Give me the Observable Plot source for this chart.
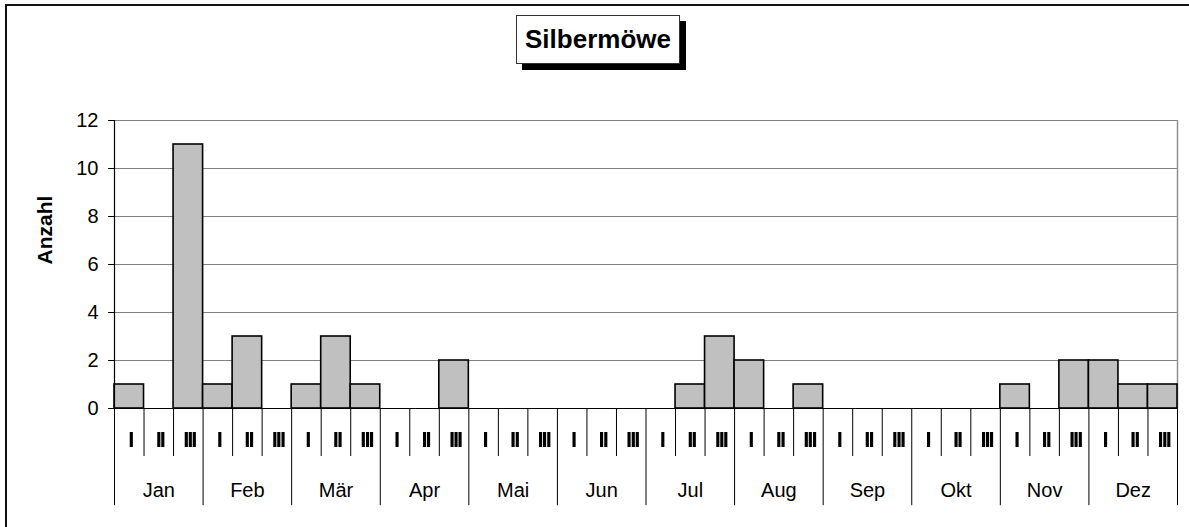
<!DOCTYPE html>
<html>
<head>
<meta charset="utf-8">
<script src="https://cdn.jsdelivr.net/npm/d3@7"></script>
<script src="https://cdn.jsdelivr.net/npm/@observablehq/plot@0.6"></script>
<style>
  html, body { margin: 0; padding: 0; background: #fff; }
  #wrap { position: relative; width: 1189px; height: 527px; overflow: hidden; font-family: "Liberation Sans", Arial, sans-serif; }
  #frame { position: absolute; left: 5px; top: 4px; width: 1300px; height: 700px; border-left: 2px solid #111; border-top: 2px solid #111; box-sizing: border-box; }
  #title { position: absolute; left: 516px; top: 15px; width: 164px; height: 49px; box-sizing: border-box; background: #fff; border: 1px solid #333; box-shadow: 6px 6px 0 #000; display: flex; align-items: center; justify-content: center; font-weight: bold; font-size: 26px; color: #000; }
  #chart { position: absolute; left: 0; top: 0; }
  g.dec { letter-spacing: -2px; filter: grayscale(1); }
</style>
</head>
<body>
<div id="wrap">
  <div id="frame"></div>
  <div id="chart"></div>
  <div id="title">Silbermöwe</div>
</div>
<script>
const months = ["Jan","Feb","Mär","Apr","Mai","Jun","Jul","Aug","Sep","Okt","Nov","Dez"];
const decades = ["I","II","III"];
const counts = [
  1, 0, 11,   // Jan
  1, 3, 0,    // Feb
  1, 3, 1,    // Mär
  0, 0, 2,    // Apr
  0, 0, 0,    // Mai
  0, 0, 0,    // Jun
  0, 1, 3,    // Jul
  2, 0, 1,    // Aug
  0, 0, 0,    // Sep
  0, 0, 0,    // Okt
  1, 0, 2,    // Nov
  2, 1, 1     // Dez
];
const yTicks = [0, 2, 4, 6, 8, 10, 12];
const yLabel = "Anzahl";

const bars = counts.map((v, i) => ({i, v})).filter(d => d.v > 0);
const decadeCells = d3.range(months.length * decades.length).map(i => ({i, label: decades[i % 3]}));
const monthCells = months.map((m, k) => ({k, m}));

const chart = Plot.plot({
  width: 1189,
  height: 527,
  marginLeft: 114,
  marginRight: 12,
  marginTop: 120,
  marginBottom: 119,
  style: {fontFamily: "'Liberation Sans', Arial, sans-serif", background: "transparent", overflow: "visible"},
  x: {type: "linear", domain: [0, counts.length], axis: null},
  y: {type: "linear", domain: [0, 12], axis: null},
  marks: [
    Plot.ruleY(yTicks.filter(t => t > 0), {stroke: "#808080", strokeWidth: 1.2}),
    Plot.ruleX([counts.length], {y1: 0, y2: 12, stroke: "#909090", strokeWidth: 1.5}),
    Plot.rectY(bars, {x1: "i", x2: d => d.i + 1, y1: 0, y2: "v", fill: "#c0c0c0", stroke: "#000", strokeWidth: 1.6}),
    Plot.ruleY([0], {stroke: "#000", strokeWidth: 1.2}),
    Plot.ruleX(d3.range(1, counts.length).filter(i => i % 3 !== 0), {y1: 0, y2: -2, stroke: "#000", strokeWidth: 1}),
    Plot.ruleX(d3.range(0, counts.length + 1, 3), {y1: 0, y2: -4.05, stroke: "#000", strokeWidth: 1}),
    Plot.ruleX([0], {y1: 0, y2: 12, stroke: "#000", strokeWidth: 1.2}),
    Plot.ruleY(yTicks, {x1: -0.2, x2: 0, stroke: "#000", strokeWidth: 1}),
    Plot.text(yTicks, {x: 0, y: d => d, text: d => String(d), textAnchor: "end", dx: -16, fontSize: 20, fill: "#000"}),
    Plot.text(decadeCells, {x: d => d.i + 0.5, y: -1.33, dx: 1, text: "label", fontSize: 22, fontWeight: "bold", fill: "#000", className: "dec"}),
    Plot.text(monthCells, {x: d => d.k * 3 + 1.5, y: -3.4, text: "m", fontSize: 20, fill: "#000"}),
    Plot.text([yLabel], {frameAnchor: "left", dx: -69, rotate: -90, fontSize: 21, fontWeight: "bold", fill: "#000"})
  ]
});
document.getElementById("chart").appendChild(chart);
</script>
</body>
</html>
